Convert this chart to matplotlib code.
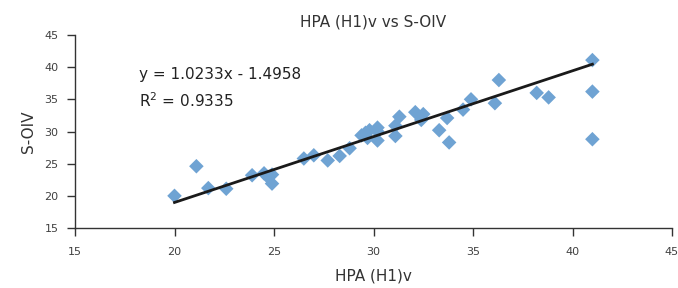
import matplotlib
matplotlib.use("Agg")
import matplotlib.pyplot as plt
import numpy as np

plt.rcParams['font.family'] = ['DejaVu Sans']

x_vals = [20.0, 21.1, 21.7, 22.6, 23.9, 24.5, 24.7, 24.9, 24.9, 26.5, 27.0, 27.7,
          28.3, 28.8, 29.4, 29.6, 29.7, 29.8, 30.2, 30.2, 30.2, 31.1, 31.1, 31.3,
          32.1, 32.5, 32.4, 33.3, 33.7, 33.8, 34.5, 34.9, 36.1, 36.3, 38.2, 38.8,
          41.0, 41.0, 41.0]
y_vals = [20.0, 24.6, 21.2, 21.1, 23.2, 23.5, 22.9, 23.3, 21.9, 25.8, 26.3, 25.5,
          26.2, 27.4, 29.4, 29.8, 29.0, 30.2, 30.6, 30.0, 28.6, 30.9, 29.3, 32.3,
          33.0, 32.7, 31.8, 30.2, 32.1, 28.3, 33.4, 35.0, 34.4, 38.0, 36.0, 35.3,
          41.1, 36.2, 28.8]
slope = 1.0233
intercept = -1.4958
r2 = 0.9335
x_ticks = [15, 20, 25, 30, 35, 40, 45]
y_ticks = [15, 20, 25, 30, 35, 40, 45]

fig = plt.figure(figsize=(6.78, 2.88), dpi=100)
ax = fig.add_axes([75/678, 1-228/288, (672-75)/678, (228-35)/288])

ax.scatter(x_vals, y_vals, marker='D', s=55, color='#6fa3d3', edgecolors='none', zorder=2)
xl = np.array([min(x_vals), max(x_vals)])
ax.plot(xl, slope*xl + intercept, color='#1a1a1a', lw=2, zorder=3)

ax.set_xlim(15, 45)
ax.set_ylim(15, 45)
ax.set_xticks(x_ticks)
ax.set_yticks(y_ticks)
for s in ['top', 'right']:
    ax.spines[s].set_visible(False)
for s in ['left', 'bottom']:
    ax.spines[s].set_color('#333333')
    ax.spines[s].set_linewidth(1)
ax.tick_params(direction='out', length=6, width=1, colors='#333333', labelsize=8, labelcolor='#404040')
ax.tick_params(axis='x', pad=8)
ax.tick_params(axis='y', pad=6)

ax.set_title('HPA (H1)v vs S-OIV', fontsize=11, color='#333333', pad=6)
ax.set_xlabel('HPA (H1)v', fontsize=11, color='#333333', labelpad=8)
ax.set_ylabel('S-OIV', fontsize=11, color='#333333', labelpad=6)

ax.text(18.2, 38.8, f'y = {slope:.4f}x - {abs(intercept):.4f}', fontsize=11, color='#222222', va='center')
ax.text(18.2, 34.8, f'R$^2$ = {r2:.4f}', fontsize=11, color='#222222', va='center')

fig.savefig('out.png', dpi=100)
